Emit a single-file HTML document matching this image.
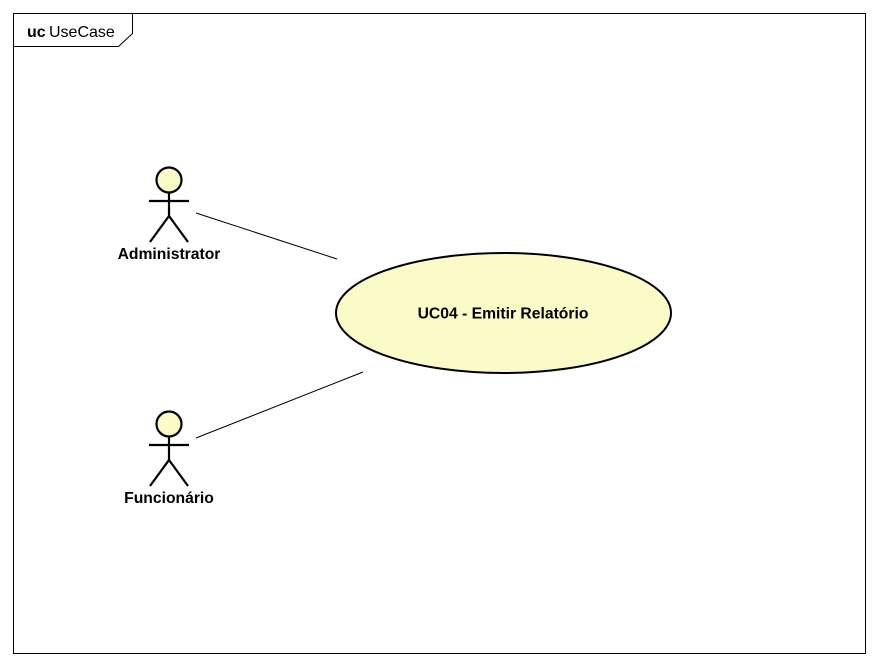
<!DOCTYPE html>
<html><head><meta charset="utf-8"><style>
html,body{margin:0;padding:0;background:#fff;}
svg{display:block;}
text{font-family:"Liberation Sans",Arial,sans-serif;}
</style></head><body>
<svg width="880" height="666" viewBox="0 0 880 666" xmlns="http://www.w3.org/2000/svg">
<rect x="0" y="0" width="880" height="666" fill="#fff"/>
<rect x="13.5" y="13.5" width="852" height="640" fill="none" stroke="#000" stroke-width="1"/>
<polyline points="13.5,46.5 118.5,46.5 132.5,33.5 132.5,13.5" fill="none" stroke="#000"/>
<text x="27" y="37" font-size="16" font-weight="bold">uc</text>
<text x="49" y="37" font-size="16">UseCase</text>

<line x1="196" y1="213" x2="337" y2="259" stroke="#000"/>
<line x1="196" y1="438" x2="363" y2="372" stroke="#000"/>

<ellipse cx="503.5" cy="313" rx="167.5" ry="60" fill="#fbfbc8" stroke="#000" stroke-width="2"/>
<text x="503" y="318.5" font-size="15.7" font-weight="bold" text-anchor="middle">UC04 - Emitir Relatório</text>

<g stroke="#000" stroke-width="2.2" fill="none">
<circle cx="169" cy="180" r="12.5" fill="#fbfbc8"/>
<line x1="149" y1="201" x2="189" y2="201"/>
<line x1="169" y1="192" x2="169" y2="216"/>
<polyline points="150,242 169,216 188,242"/>
<circle cx="169" cy="424" r="12.5" fill="#fbfbc8"/>
<line x1="149" y1="445" x2="189" y2="445"/>
<line x1="169" y1="436" x2="169" y2="460"/>
<polyline points="150,486 169,460 188,486"/>
</g>
<text x="169" y="259" font-size="15.7" font-weight="bold" text-anchor="middle">Administrator</text>
<text x="169" y="503" font-size="15.7" font-weight="bold" text-anchor="middle">Funcionário</text>
</svg>
</body></html>
